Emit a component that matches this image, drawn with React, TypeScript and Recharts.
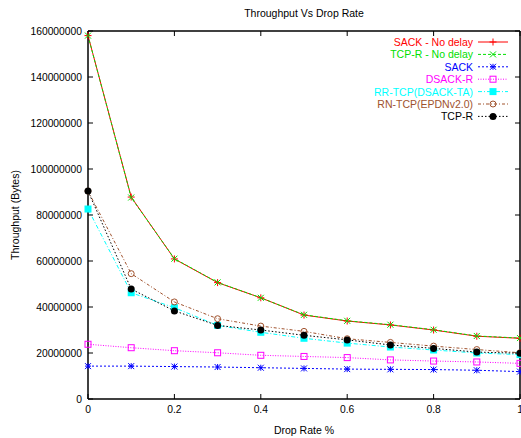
import { LineChart, Line, XAxis, YAxis, Legend } from 'recharts'

// x values (drop rate)
const dropRate = [0, 0.1, 0.2, 0.3, 0.4, 0.5, 0.6, 0.7, 0.8, 0.9, 1]

// throughput in bytes
const sackNoDelay = [158000000, 87800000, 60900000, 50600000, 44000000, 36500000, 33900000, 32200000, 30000000, 27300000, 26400000]
const tcpRNoDelay = [158000000, 87600000, 61000000, 50700000, 44000000, 36600000, 34000000, 32300000, 30100000, 27400000, 26500000]
const sack = [14300000, 14300000, 14100000, 13900000, 13600000, 13300000, 13000000, 12900000, 12800000, 12500000, 11900000]
const dsackR = [23800000, 22300000, 21000000, 20100000, 19000000, 18500000, 18000000, 17000000, 16500000, 16100000, 15500000]
const rrTcp = [82600000, 46200000, 39700000, 32000000, 29000000, 26400000, 24300000, 22600000, 21300000, 20000000, 19300000]
const rnTcp = [90400000, 54500000, 42200000, 34900000, 31700000, 29400000, 26200000, 24600000, 23000000, 21500000, 20100000]
const tcpR = [90400000, 47800000, 38300000, 32000000, 30000000, 27700000, 25700000, 23500000, 22000000, 20400000, 19900000]

const xTicks = [0, 0.2, 0.4, 0.6, 0.8, 1]
const yTicks = [0, 20000000, 40000000, 60000000, 80000000, 100000000, 120000000, 140000000, 160000000]

type Shape = 'plus' | 'cross' | 'star' | 'box' | 'boxFill' | 'circle' | 'circleFill'

const series: { key: string; name: string; values: number[]; color: string; dash?: string; shape: Shape }[] = [
  { key: 'sackNoDelay', name: 'SACK - No delay', values: sackNoDelay, color: '#ff0000', shape: 'plus' },
  { key: 'tcpRNoDelay', name: 'TCP-R - No delay', values: tcpRNoDelay, color: '#00e000', dash: '3 2', shape: 'cross' },
  { key: 'sack', name: 'SACK', values: sack, color: '#0000ff', dash: '2 2', shape: 'star' },
  { key: 'dsackR', name: 'DSACK-R', values: dsackR, color: '#ff00ff', dash: '1 1.5', shape: 'box' },
  { key: 'rrTcp', name: 'RR-TCP(DSACK-TA)', values: rrTcp, color: '#00ffff', dash: '4 2 1 2', shape: 'boxFill' },
  { key: 'rnTcp', name: 'RN-TCP(EPDNv2.0)', values: rnTcp, color: '#a0522d', dash: '3 2 1 2', shape: 'circle' },
  { key: 'tcpR', name: 'TCP-R', values: tcpR, color: '#000000', dash: '1.5 2', shape: 'circleFill' },
]

const rows = dropRate.map((x, i) => {
  const row: Record<string, number> = { x }
  series.forEach(s => { row[s.key] = s.values[i] })
  return row
})

const W = 521
const H = 438
const PLOT = { left: 88, top: 31, right: 520, bottom: 399 }
const FONT = '"Liberation Sans", Arial, sans-serif'

function Mark({ cx, cy, shape, color }: { cx: number; cy: number; shape: Shape; color: string }) {
  const s = 3
  switch (shape) {
    case 'plus':
      return <g stroke={color} strokeWidth={1}><line x1={cx - s - 0.5} y1={cy} x2={cx + s + 0.5} y2={cy} /><line x1={cx} y1={cy - s - 0.5} x2={cx} y2={cy + s + 0.5} /></g>
    case 'cross':
      return <g stroke={color} strokeWidth={1}><line x1={cx - s} y1={cy - s} x2={cx + s} y2={cy + s} /><line x1={cx - s} y1={cy + s} x2={cx + s} y2={cy - s} /></g>
    case 'star':
      return (
        <g stroke={color} strokeWidth={1}>
          <line x1={cx - s} y1={cy - s} x2={cx + s} y2={cy + s} />
          <line x1={cx - s} y1={cy + s} x2={cx + s} y2={cy - s} />
          <line x1={cx - s} y1={cy} x2={cx + s} y2={cy} />
          <line x1={cx} y1={cy - s} x2={cx} y2={cy + s} />
        </g>
      )
    case 'box':
      return <rect x={cx - s} y={cy - s} width={2 * s} height={2 * s} fill="none" stroke={color} strokeWidth={1} />
    case 'boxFill':
      return <rect x={cx - s - 0.5} y={cy - s - 0.5} width={2 * s + 1} height={2 * s + 1} fill={color} />
    case 'circle':
      return <circle cx={cx} cy={cy} r={s} fill="none" stroke={color} strokeWidth={1} />
    default:
      return <circle cx={cx} cy={cy} r={s + 0.5} fill={color} />
  }
}

const makeDot = (shape: Shape, color: string) => (p: any) => (
  <g key={`${shape}-${p.index}`}>
    <Mark cx={p.cx} cy={p.cy} shape={shape} color={color} />
  </g>
)

function KeyBox() {
  const rowH = 12.4
  return (
    <svg width={175} height={series.length * rowH + 4} style={{ display: 'block' }}>
      {series.map((s, i) => {
        const y = 7 + i * rowH
        return (
          <g key={s.key}>
            <text x={133} y={y} textAnchor="end" dominantBaseline="central" fill={s.color} fontSize={10.5} fontFamily={FONT}>
              {s.name}
            </text>
            <line x1={138} y1={y} x2={168} y2={y} stroke={s.color} strokeWidth={1} strokeDasharray={s.dash} />
            <Mark cx={153} cy={y} shape={s.shape} color={s.color} />
          </g>
        )
      })}
    </svg>
  )
}

const tickStyle = { fill: '#000', fontSize: 10.3, fontFamily: FONT }
const axisLine = { stroke: '#000', strokeWidth: 1.5 }

export default function App() {
  return (
    <div style={{ position: 'absolute', left: 0, top: 0, width: W, height: H, background: '#fff', fontFamily: FONT }}>
      <LineChart width={W} height={H} data={rows} margin={{ top: 0, right: 0, bottom: 0, left: 0 }}>
        <XAxis
          dataKey="x"
          type="number"
          domain={[0, 1]}
          ticks={xTicks}
          interval={0}
          height={H - PLOT.bottom}
          tick={tickStyle}
          tickSize={-5}
          tickMargin={12}
          axisLine={axisLine}
          tickLine={{ stroke: '#000' }}
          label={{
            content: () => (
              <text x={(PLOT.left + PLOT.right) / 2} y={434} textAnchor="middle" fontSize={10.5} fontFamily={FONT} fill="#000">
                Drop Rate %
              </text>
            ),
          }}
        />
        <XAxis
          xAxisId="t"
          orientation="top"
          dataKey="x"
          type="number"
          domain={[0, 1]}
          ticks={xTicks}
          interval={0}
          height={PLOT.top}
          tickFormatter={() => ''}
          tickSize={-5}
          axisLine={axisLine}
          tickLine={{ stroke: '#000' }}
          label={{
            content: () => (
              <text x={(PLOT.left + PLOT.right) / 2} y={17} textAnchor="middle" fontSize={10.5} fontFamily={FONT} fill="#000">
                Throughput Vs Drop Rate
              </text>
            ),
          }}
        />
        <YAxis
          type="number"
          domain={[0, 160000000]}
          ticks={yTicks}
          interval={0}
          width={PLOT.left}
          tick={tickStyle}
          tickSize={-5}
          tickMargin={11}
          tickFormatter={(v: number) => String(v)}
          axisLine={axisLine}
          tickLine={{ stroke: '#000' }}
          label={{
            content: () => (
              <text
                x={15}
                y={(PLOT.top + PLOT.bottom) / 2}
                transform={`rotate(-90 15 ${(PLOT.top + PLOT.bottom) / 2})`}
                textAnchor="middle"
                dominantBaseline="central"
                fontSize={10.5}
                fontFamily={FONT}
                fill="#000"
              >
                Throughput (Bytes)
              </text>
            ),
          }}
        />
        <YAxis
          yAxisId="r"
          orientation="right"
          type="number"
          domain={[0, 160000000]}
          allowDataOverflow
          ticks={yTicks}
          interval={0}
          width={W - PLOT.right}
          tickFormatter={() => ''}
          tickSize={-5}
          axisLine={axisLine}
          tickLine={{ stroke: '#000' }}
        />
        <Legend
          layout="vertical"
          align="center"
          verticalAlign="middle"
          content={() => <KeyBox />}
          wrapperStyle={{ left: 340, top: 35, width: 175, height: 'auto' }}
        />
        {series.map(s => (
          <Line
            key={s.key}
            dataKey={s.key}
            name={s.name}
            type="linear"
            stroke={s.color}
            strokeWidth={1}
            strokeDasharray={s.dash}
            dot={makeDot(s.shape, s.color)}
            activeDot={false}
            isAnimationActive={false}
          />
        ))}
      </LineChart>
    </div>
  )
}
